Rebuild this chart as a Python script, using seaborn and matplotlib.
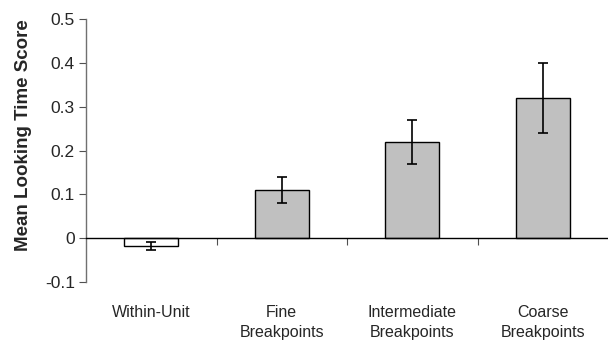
import numpy as np
import matplotlib
matplotlib.use("Agg")
import matplotlib.pyplot as plt
import seaborn as sns
import pandas as pd

# values
categories = ["Within-Unit", "Fine\nBreakpoints", "Intermediate\nBreakpoints", "Coarse\nBreakpoints"]
means = [-0.018, 0.11, 0.22, 0.32]
errors = [0.009, 0.03, 0.05, 0.08]
bar_colors = ["#ffffff", "#c0c0c0", "#c0c0c0", "#c0c0c0"]
yticks = [-0.1, 0, 0.1, 0.2, 0.3, 0.4, 0.5]
ytick_labels = ["-0.1", "0", "0.1", "0.2", "0.3", "0.4", "0.5"]

sns.set_style("white")
plt.rcParams["font.family"] = ["Liberation Sans", "DejaVu Sans"]

df = pd.DataFrame({"cond": categories, "score": means})

fig = plt.figure(figsize=(6.08, 3.45), dpi=100)
ax = fig.add_axes([86 / 608, 1 - 282 / 345, 522 / 608, 263 / 345])

sns.barplot(data=df, x="cond", y="score", hue="cond", palette=bar_colors, legend=False,
            width=0.41, edgecolor="black", linewidth=1.0, errorbar=None, saturation=1, ax=ax)
ax.errorbar(np.arange(len(means)), means, yerr=errors, fmt="none",
            ecolor="black", elinewidth=1.2, capsize=3.5, capthick=1.2)

ax.set_xlim(-0.5, 3.5)
ax.set_ylim(-0.1, 0.5)
ax.set_yticks(yticks)
ax.set_yticklabels(ytick_labels, fontsize=12.5)

for s in ["top", "right"]:
    ax.spines[s].set_visible(False)
ax.spines["left"].set_color("#707070")
ax.spines["left"].set_linewidth(1.0)
ax.spines["bottom"].set_position(("data", 0))
ax.spines["bottom"].set_color("black")
ax.spines["bottom"].set_linewidth(1.0)

ax.set_xticks(np.arange(len(categories)))
ax.set_xticklabels(categories, fontsize=11.5, linespacing=1.4)
ax.set_xticks([0.5, 1.5, 2.5], minor=True)
ax.tick_params(axis="x", which="major", length=0, pad=48)
ax.tick_params(axis="x", which="minor", bottom=True, length=5, width=0.8, color="#505050", direction="out")
ax.tick_params(axis="y", left=True, length=5, width=0.8, color="#505050", direction="out", pad=3)

ax.set_xlabel("")
ax.set_ylabel("Mean Looking Time Score", fontsize=13.5, fontweight="bold")
ax.yaxis.set_label_coords(-0.103, 0.56)

fig.savefig("out.png", dpi=100)
